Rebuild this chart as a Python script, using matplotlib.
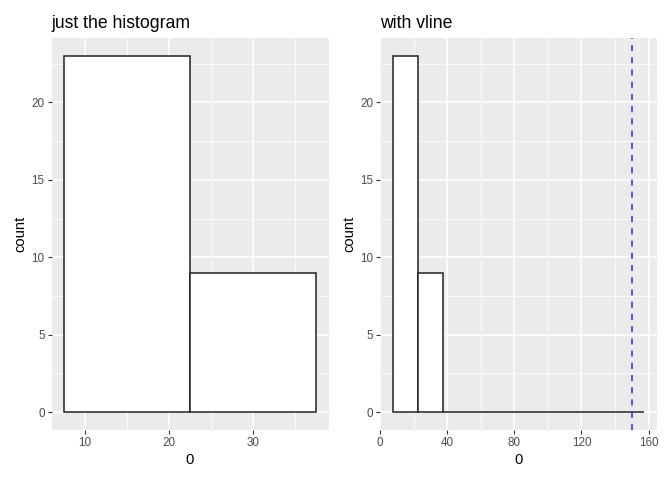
import matplotlib.pyplot as plt
import numpy as np

plt.rcParams['font.family'] = ['Liberation Sans', 'DejaVu Sans']

# left panel: two bins of width 15
left_edges = [7.5, 22.5]
left_counts = [23, 9]

# right panel: same data, bins extended to 157.5
right_edges = [7.5, 22.5, 37.5, 52.5, 67.5, 82.5, 97.5, 112.5, 127.5, 142.5]
right_counts = [23, 9, 0, 0, 0, 0, 0, 0, 0, 0]
bin_width = 15
vline_x = 150

titles = ['just the histogram', 'with vline']

W, H = 672, 480
fig = plt.figure(figsize=(W / 100, H / 100), dpi=100)
ax1 = fig.add_axes([51.5 / W, 1 - 430 / H, 277 / W, 392 / H])
ax2 = fig.add_axes([380 / W, 1 - 430 / H, 277 / W, 392 / H])


def style(ax, title, xmajor, xminor, xlim):
    ax.set_facecolor('#EBEBEB')
    for s in ax.spines.values():
        s.set_visible(False)
    ax.set_yticks([0, 5, 10, 15, 20])
    ax.set_yticks([2.5, 7.5, 12.5, 17.5, 22.5], minor=True)
    ax.set_xticks(xmajor)
    ax.set_xticks(xminor, minor=True)
    ax.grid(True, which='major', color='white', linewidth=1.1, zorder=0)
    ax.grid(True, which='minor', color='white', linewidth=0.55, zorder=0)
    ax.set_axisbelow(True)
    ax.tick_params(which='major', length=3, width=0.8, color='#333333',
                   labelcolor='#4D4D4D', labelsize=8.4, pad=2)
    ax.tick_params(which='minor', length=0)
    ax.set_xlabel('0', fontsize=10.6, labelpad=3)
    ax.set_ylabel('count', fontsize=10.6, labelpad=3)
    ax.set_title(title, fontsize=12.7, loc='left', pad=7)
    ax.set_xlim(*xlim)
    ax.set_ylim(-1.15, 24.15)


ax1.bar(left_edges, left_counts, width=bin_width, align='edge',
        facecolor='white', edgecolor='#222222', linewidth=1.1, zorder=2)
style(ax1, titles[0], [10, 20, 30], [5, 15, 25, 35], (6, 39))

ax2.bar(right_edges, right_counts, width=bin_width, align='edge',
        facecolor='white', edgecolor='#222222', linewidth=1.1, zorder=2)
ax2.axvline(vline_x, color='#2B2BE6', linestyle=(0, (4, 4)), linewidth=1.1, zorder=3)
style(ax2, titles[1], [0, 40, 80, 120, 160], [20, 60, 100, 140], (0, 165))

fig.savefig('out.png', dpi=100)
